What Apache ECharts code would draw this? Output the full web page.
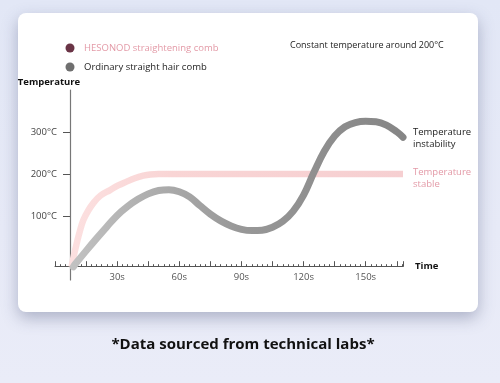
<!DOCTYPE html>
<html>
<head>
<meta charset="utf-8">
<script src="https://cdn.jsdelivr.net/npm/echarts@6/dist/echarts.min.js"></script>
<style>
html,body{margin:0;padding:0;}
body{width:500px;height:383px;background:linear-gradient(180deg,#e2e7f6 0%,#e7eaf7 60%,#eaecf8 100%);}
#chart{width:500px;height:383px;}
</style>
</head>
<body>
<div id="chart"></div>
<script>
// Series names
const seriesNames = ['HESONOD straightening comb', 'Ordinary straight hair comb'];
// HESONOD comb: time (s) and temperature (°C)
const hesonodTime = [8, 9.2, 10.5, 12, 13.7, 16, 18.5, 22, 26.6, 30.5, 34.6, 38.5, 42.6, 46, 50, 55, 60, 80, 100, 120, 140, 168];
const hesonodTemp = [-19, 10, 37, 66, 92, 114, 132, 150, 163, 174, 183, 191, 197, 200, 201, 201, 201, 201, 201, 201, 201, 201];
// Ordinary comb: time (s) and temperature (°C)
const ordinaryTime = [8.8, 10, 15, 20, 25, 30, 35, 40, 45, 50, 55, 60, 65, 70, 75, 80, 85, 90, 95, 100, 105, 110, 115, 120, 125, 130, 135, 140, 145, 150, 155, 160, 165, 168];
const ordinaryTemp = [-19, -11, 19, 48, 76, 103, 124, 141, 154, 162, 164, 159, 147, 126, 106, 90, 78, 70, 67, 68, 75, 89, 113, 151, 205, 255, 291, 313, 323, 326, 325, 317, 301, 288];
// Tick labels
const timeLabels = [30, 60, 90, 120, 150];
const tempLabels = [100, 200, 300];
const endLabels = ['Temperature\nstable', 'Temperature\ninstability'];

const FONT = '"Open Sans", "Noto Sans", sans-serif';
const chart = echarts.init(document.getElementById('chart'), null, {renderer: 'canvas'});

const pair = (xs, ys) => xs.map((x, i) => [x, ys[i]]);

chart.setOption({
  backgroundColor: 'transparent',
  animation: false,
  textStyle: {fontFamily: FONT},
  graphic: [
    {
      type: 'rect', z: -10, silent: true,
      shape: {x: 18, y: 13, width: 460, height: 299, r: 8},
      style: {fill: '#ffffff', shadowBlur: 16, shadowOffsetY: 6, shadowColor: 'rgba(60,70,110,0.35)'}
    },
    {
      type: 'text', left: 290, top: 41,
      style: {text: 'Constant temperature around 200°C', fill: '#222', font: '9px ' + FONT}
    },
    {
      type: 'text', x: 243, y: 345,
      style: {text: '*Data sourced from technical labs*', fill: '#111', font: 'bold 15px ' + FONT, textAlign: 'center', textVerticalAlign: 'middle'}
    }
  ],
  legend: {
    orient: 'vertical', left: 65.5, top: 43, padding: 0,
    itemWidth: 18, itemHeight: 9, itemGap: 9,
    icon: 'circle',
    textStyle: {fontSize: 9.5, fontFamily: FONT},
    data: [
      {name: seriesNames[0], itemStyle: {color: '#6a3446'}, textStyle: {color: '#e39aa7'}},
      {name: seriesNames[1], itemStyle: {color: '#6f6f6f'}, textStyle: {color: '#222'}}
    ]
  },
  grid: {left: 55, top: 90, width: 348, height: 190, outerBoundsMode: 'none'},
  xAxis: {
    type: 'value', min: 0, max: 168, interval: 15,
    offset: -13.3,
    name: 'Time', nameLocation: 'end', nameGap: 12,
    nameTextStyle: {fontWeight: 'bold', fontSize: 9.5, color: '#111', fontFamily: FONT},
    axisLine: {onZero: false, lineStyle: {color: '#555', width: 1}},
    axisTick: {show: true, inside: true, length: 5.5, lineStyle: {color: '#555'}},
    minorTick: {show: true, splitNumber: 6, length: 2.5, lineStyle: {color: '#555'}},
    splitLine: {show: false},
    axisLabel: {
      margin: 6, fontSize: 9.5, color: '#555', fontFamily: FONT,
      formatter: v => timeLabels.indexOf(v) >= 0 ? v + 's' : ''
    }
  },
  yAxis: {
    type: 'value', min: -50, max: 400, interval: 50,
    offset: -15,
    name: 'Temperature', nameLocation: 'end', nameGap: 3,
    nameTextStyle: {fontWeight: 'bold', fontSize: 9.5, color: '#111', padding: [0, 42, 0, 0], fontFamily: FONT},
    axisLine: {onZero: false, lineStyle: {color: '#777', width: 1.2}},
    axisTick: {show: true, length: 7, customValues: tempLabels, lineStyle: {color: '#555'}},
    splitLine: {show: false},
    axisLabel: {
      margin: 13, fontSize: 9.5, color: '#444', fontFamily: FONT,
      customValues: tempLabels,
      formatter: v => v + '°C'
    }
  },
  series: [
    {
      name: seriesNames[0], type: 'line', smooth: 0.4, symbol: 'none',
      data: pair(hesonodTime, hesonodTemp), z: 2,
      lineStyle: {
        width: 6.5,
        color: new echarts.graphic.LinearGradient(0, 0, 1, 0, [
          {offset: 0, color: '#fce0e0'}, {offset: 0.3, color: '#f9d5d5'}, {offset: 1, color: '#f6cfd1'}
        ])
      },
      itemStyle: {color: '#6a3446'},
      endLabel: {
        show: true, formatter: endLabels[0], distance: 10, offset: [0, 4],
        color: '#e39aa7', fontSize: 9.5, lineHeight: 12, fontFamily: FONT
      }
    },
    {
      name: seriesNames[1], type: 'line', smooth: 0.4, symbol: 'none',
      data: pair(ordinaryTime, ordinaryTemp), z: 3,
      lineStyle: {
        width: 7, cap: 'round',
        color: new echarts.graphic.LinearGradient(0, 0, 1, 0, [
          {offset: 0, color: '#c2c2c2'}, {offset: 0.5, color: '#989898'}, {offset: 1, color: '#858585'}
        ])
      },
      itemStyle: {color: '#6f6f6f'},
      endLabel: {
        show: true, formatter: endLabels[1], distance: 10, offset: [0, 1],
        color: '#222', fontSize: 9.5, lineHeight: 12, fontFamily: FONT
      }
    }
  ]
});
</script>
</body>
</html>
